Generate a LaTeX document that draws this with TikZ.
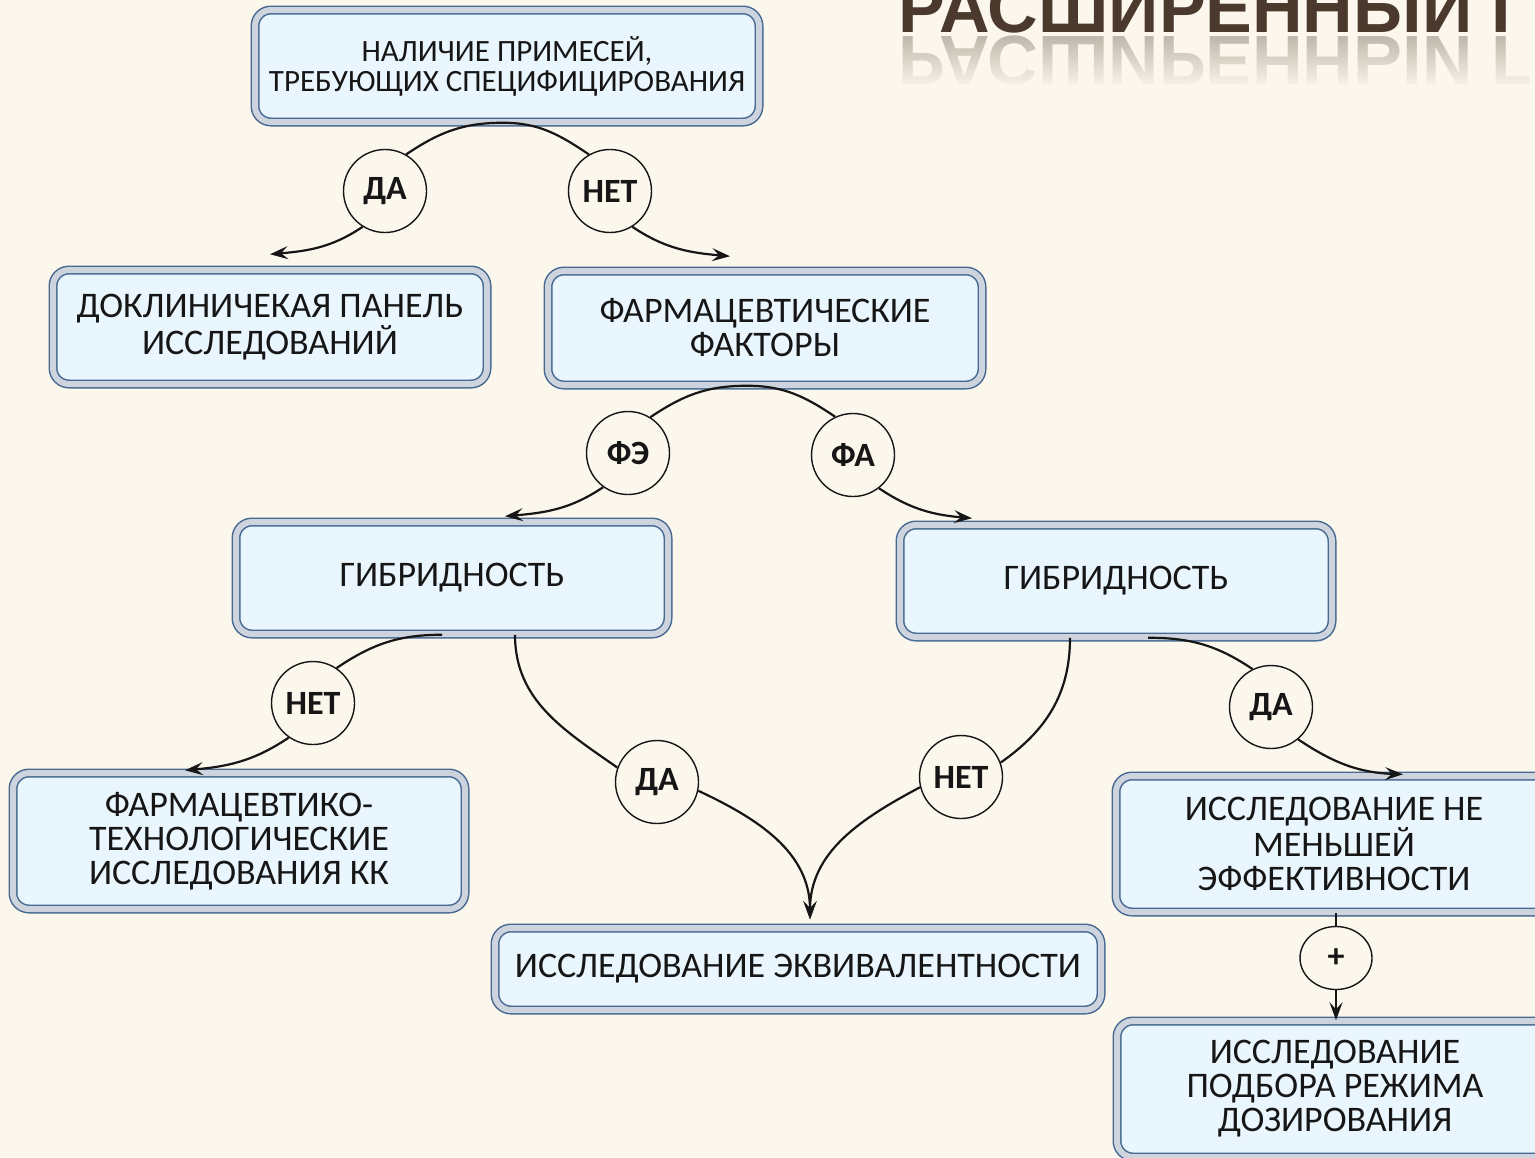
\documentclass[tikz,border=0pt]{standalone}
\usepackage{fontspec}
\setmainfont{Carlito}
\newfontfamily\titlefont{Liberation Sans}
\usetikzlibrary{arrows.meta,shapes.geometric,shadows,fadings}
\definecolor{bgcream}{RGB}{251,247,236}
\definecolor{boxfill}{RGB}{234,246,253}
\definecolor{boxedge}{RGB}{70,104,145}
\definecolor{boxbevel}{RGB}{205,212,222}
\definecolor{ink}{RGB}{22,22,22}
\definecolor{titlebrown}{RGB}{75,57,45}

\begin{document}
\begin{tikzpicture}[x=0.5pt,y=0.5pt,
    stepbox/.style={draw=boxedge,line width=0.75pt,double=boxbevel,double distance=3pt,
        fill=boxfill,rounded corners=8pt,align=center,text=ink,
        font=\fontsize{18}{17}\selectfont,
        drop shadow={shadow xshift=1.2pt,shadow yshift=-1.8pt,opacity=0.4}},
    answer/.style={circle,draw=ink,line width=0.7pt,minimum size=41.5pt,inner sep=0pt,
        font=\bfseries\fontsize{17}{17}\selectfont,text=ink},
    heading/.style={anchor=base west,inner sep=0pt,
        font=\titlefont\bfseries\fontsize{35}{35}\selectfont},
    link/.style={draw=ink,line width=1.1pt},
    tip/.style={link,-{Stealth[length=9pt,width=6.5pt,inset=3.5pt]}}]

\useasboundingbox (0,0) rectangle (1535,-1157);
\clip (0,0) rectangle (1535,-1157);
\fill[bgcream] (0,0) rectangle (1535,-1157);

% Title with its reflection
\node[heading,text=titlebrown] (title) at (898,-32) {РАСШИРЕННЫЙ Г};
\node[heading,yscale=-1,text=titlebrown!35!bgcream] (mirror) at (898,-36) {РАСШИРЕННЫЙ Г};
\fill[bgcream,path fading=north] (880,-34) rectangle (1535,-88);
\fill[bgcream] (880,-88) rectangle (1535,-115);

% Boxes
\node[stepbox,minimum width=252pt,minimum height=56pt,font=\fontsize{15.5}{15}\selectfont]
    (impur) at (507,-66) {НАЛИЧИЕ ПРИМЕСЕЙ,\\ТРЕБУЮЩИХ СПЕЦИФИЦИРОВАНИЯ};
\node[stepbox,minimum width=217pt,minimum height=57pt] (preclin) at (270,-327)
    {ДОКЛИНИЧЕКАЯ ПАНЕЛЬ\\ИССЛЕДОВАНИЙ};
\node[stepbox,minimum width=217pt,minimum height=57pt] (pharm) at (765,-328)
    {ФАРМАЦЕВТИЧЕСКИЕ\\ФАКТОРЫ};
\node[stepbox,minimum width=216pt,minimum height=56pt] (hybleft) at (452,-578) {ГИБРИДНОСТЬ};
\node[stepbox,minimum width=216pt,minimum height=56pt] (hybright) at (1116,-581) {ГИБРИДНОСТЬ};
\node[stepbox,minimum width=226pt,minimum height=68pt] (techstudy) at (239,-841)
    {ФАРМАЦЕВТИКО-\\ТЕХНОЛОГИЧЕСКИЕ\\ИССЛЕДОВАНИЯ КК};
\node[stepbox,minimum width=303pt,minimum height=41pt] (equiv) at (798,-969)
    {ИССЛЕДОВАНИЕ ЭКВИВАЛЕНТНОСТИ};
\node[stepbox,minimum width=218pt,minimum height=68pt] (noninf) at (1334,-844)
    {ИССЛЕДОВАНИЕ НЕ\\МЕНЬШЕЙ\\ЭФФЕКТИВНОСТИ};
\node[stepbox,minimum width=218pt,minimum height=68pt] (dosing) at (1335,-1089)
    {ИССЛЕДОВАНИЕ\\ПОДБОРА РЕЖИМА\\ДОЗИРОВАНИЯ};

% Answers
\node[answer] (yes1) at (385,-191) {ДА};
\node[answer] (no1) at (610,-191) {НЕТ};
\node[answer] (fe) at (628,-453) {ФЭ};
\node[answer] (fa) at (853,-455) {ФА};
\node[answer] (no2) at (313,-703) {НЕТ};
\node[answer] (yes2) at (657,-782) {ДА};
\node[answer] (no3) at (961,-777) {НЕТ};
\node[answer] (yes3) at (1271,-707) {ДА};
\node[answer,ellipse,minimum width=36pt,minimum height=31.5pt] (plus) at (1336,-958) {+};

% Connectors
\draw[link] ([xshift=-2pt]impur.south) to[out=180,in=34] (yes1.60);
\draw[tip] (yes1.-122) to[out=-146,in=5] ([yshift=7.5pt]preclin.north);
\draw[link] ([xshift=-2pt]impur.south) to[out=0,in=146] (no1.120);
\draw[tip] (no1.-58) to[out=-34,in=175] ([xshift=-17.5pt,yshift=7pt]pharm.north);

\draw[link] ([xshift=-9pt]pharm.south) to[out=180,in=34] (fe.58);
\draw[tip] (fe.-126) to[out=-146,in=5] ([xshift=26.5pt,yshift=2.5pt]hybleft.north);
\draw[link] ([xshift=-9pt]pharm.south) to[out=0,in=146] (fa.115);
\draw[tip] (fa.-52) to[out=-34,in=175] ([xshift=-72pt,yshift=3pt]hybright.north);

\draw[link] ([xshift=-5pt]hybleft.south) to[out=180,in=34] (no2.56);
\draw[tip] (no2.-125) to[out=-146,in=5] ([xshift=-27pt,yshift=1pt]techstudy.north);
\draw[link] ([xshift=31.5pt]hybleft.south) to[out=-90,in=145] (yes2.160);
\draw[tip] (yes2.-12) to[out=-25,in=90] ([xshift=6pt,yshift=4pt]equiv.north);
\draw[link] ([xshift=-23pt]hybright.south) to[out=-90,in=35] (no3.20);
\draw[tip] (no3.-166) to[out=-152,in=90] ([xshift=6pt,yshift=4pt]equiv.north);
\draw[link] ([xshift=16pt]hybright.south) to[out=0,in=146] (yes3.116);
\draw[tip] (yes3.-50) to[out=-34,in=178] ([xshift=34.5pt,yshift=0.5pt]noninf.north);

\draw[link] (plus |- noninf.south) -- (plus);
\draw[tip] (plus) -- (plus |- dosing.north);

\end{tikzpicture}
\end{document}
